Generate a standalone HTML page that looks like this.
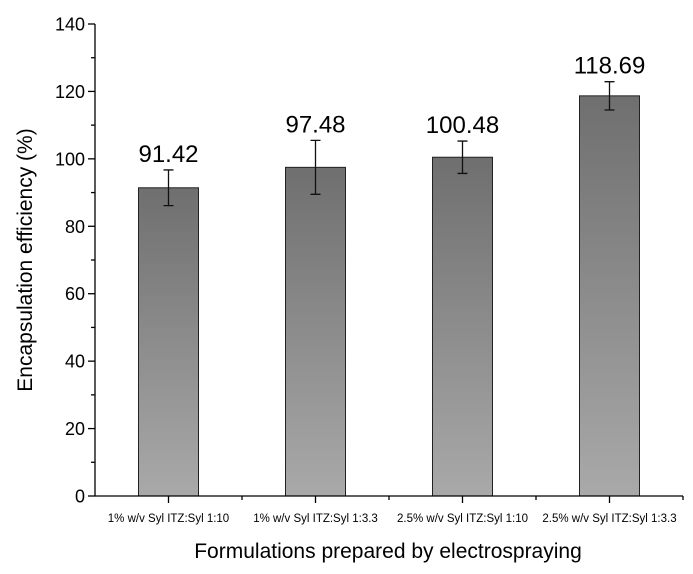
<!DOCTYPE html>
<html><head><meta charset="utf-8"><style>
html,body{margin:0;padding:0;background:#fff;}
svg{display:block;font-family:"Liberation Sans",Arial,sans-serif;}
</style></head><body>
<svg id="chart" width="693" height="574" viewBox="0 0 693 574">
<defs><linearGradient id="g" x1="0" y1="0" x2="0" y2="1"><stop offset="0" stop-color="#6f6f6f"/><stop offset="1" stop-color="#a9a9a9"/></linearGradient></defs>
</svg>
<script>
const categories=["1% w/v Syl ITZ:Syl 1:10","1% w/v Syl ITZ:Syl 1:3.3","2.5% w/v Syl ITZ:Syl 1:10","2.5% w/v Syl ITZ:Syl 1:3.3"];
const values=[91.42,97.48,100.48,118.69];
const errors=[5.3,8.0,4.8,4.2];
const valueLabels=["91.42","97.48","100.48","118.69"];
const yTicks=[0,20,40,60,80,100,120,140];
const NS="http://www.w3.org/2000/svg";
const svg=document.getElementById('chart');
const X0=95,X1=683,Y0=496,Y1=24,YMAX=140;
const band=(X1-X0)/categories.length;
function y(v){return Y0-(v/YMAX)*(Y0-Y1);}
function xc(i){return X0+band*(i+0.5);}
function el(tag,a,txt){const e=document.createElementNS(NS,tag);for(const k in a)e.setAttribute(k,a[k]);if(txt!==undefined)e.textContent=txt;svg.appendChild(e);return e;}
values.forEach((v,i)=>{
 const b=el('rect',{x:xc(i)-30,y:y(v),width:60,height:Y0-y(v),fill:'url(#g)',stroke:'#222','stroke-width':1});
 
 
 const hi=y(v+errors[i]),lo=y(v-errors[i]);
 const e=el('path',{d:`M${xc(i)},${hi}V${lo}M${xc(i)-5},${hi}H${xc(i)+5}M${xc(i)-5},${lo}H${xc(i)+5}`,stroke:'#111','stroke-width':1.3,fill:'none'});
 
 
 const t=el('text',{x:xc(i),y:hi-8,'text-anchor':'middle','font-size':24,fill:'#000'},valueLabels[i]);
 
 
 const c=el('text',{x:xc(i),y:522,'text-anchor':'middle','font-size':11.5,fill:'#000'},categories[i]);
 
 
 el('line',{x1:xc(i),x2:xc(i),y1:Y0,y2:Y0+7,stroke:'#000','stroke-width':1.3});
 el('line',{x1:X0+band*(i+1),x2:X0+band*(i+1),y1:Y0,y2:Y0+4,stroke:'#000','stroke-width':1.3});
});
const ax=el('path',{d:`M${X0},${Y1}V${Y0}H${X1}`,stroke:'#000','stroke-width':1.3,fill:'none'});


yTicks.forEach((v,i)=>{
 el('line',{x1:X0-7,x2:X0,y1:y(v),y2:y(v),stroke:'#000','stroke-width':1.3});
 if(i<yTicks.length-1)el('line',{x1:X0-4,x2:X0,y1:y(v+10),y2:y(v+10),stroke:'#000','stroke-width':1.3});
 const t=el('text',{x:X0-10,y:y(v)+6.5,'text-anchor':'end','font-size':18,fill:'#000'},String(v));
 
 
});
const yt=el('text',{x:0,y:0,transform:'translate(32,260) rotate(-90)','text-anchor':'middle','font-size':21,fill:'#000'},'Encapsulation efficiency (%)');


const xt=el('text',{x:388,y:558,'text-anchor':'middle','font-size':21,fill:'#000'},'Formulations prepared by electrospraying');


</script>
</body></html>
